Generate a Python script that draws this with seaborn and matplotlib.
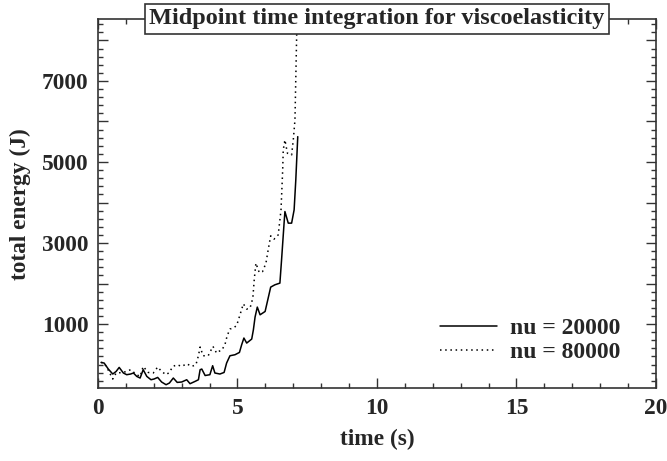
import matplotlib
matplotlib.use("Agg")
import matplotlib.pyplot as plt
import seaborn as sns
import pandas as pd
from matplotlib.ticker import MultipleLocator, FixedLocator, FixedFormatter

# ---------------- data ----------------
t_nu20000 = [0.11, 0.22, 0.37, 0.53, 0.65, 0.76, 0.91, 1.03, 1.17, 1.27, 1.39, 1.51,
             1.62, 1.75, 1.90, 2.01, 2.14, 2.28, 2.44, 2.56, 2.70, 2.84, 3.00, 3.18,
             3.30, 3.48, 3.60, 3.66, 3.72, 3.84, 4.01, 4.11, 4.19, 4.37, 4.52, 4.61,
             4.73, 4.91, 5.07, 5.15, 5.23, 5.33, 5.51, 5.57, 5.63, 5.71, 5.81, 5.99,
             6.10, 6.19, 6.34, 6.52, 6.58, 6.67, 6.70, 6.82, 6.94, 7.03, 7.09, 7.16]
e_nu20000 = [53, 38, -110, -233, -169, -70, -208, -250, -233, -208, -292, -332,
             -127, -292, -374, -356, -317, -430, -497, -455, -332, -440, -430, -374,
             -472, -415, -374, -127, -110, -270, -250, -28, -208, -233, -194, 38,
             218, 243, 300, 490, 655, 531, 630, 859, 1173, 1419, 1229, 1311,
             1641, 1912, 1969, 2011, 2586, 3491, 3777, 3491, 3491, 3819, 4559, 5626]

t_nu80000 = [0.11, 0.22, 0.36, 0.53, 0.65, 0.91, 1.17, 1.39, 1.51, 1.62, 1.80, 1.98,
             2.14, 2.28, 2.44, 2.56, 2.68, 2.84, 3.00, 3.18, 3.36, 3.51, 3.60, 3.66,
             3.77, 3.95, 4.12, 4.25, 4.31, 4.43, 4.55, 4.63, 4.73, 4.85, 4.97, 5.09,
             5.21, 5.33, 5.45, 5.55, 5.60, 5.66, 5.78, 5.90, 6.02, 6.10, 6.19, 6.31,
             6.46, 6.56, 6.62, 6.64, 6.70, 6.79, 6.94, 7.00, 7.04, 7.06, 7.12, 7.15]
e_nu80000 = [53, 40, -127, -356, -208, -194, -127, -250, -292, -46, -194, -208,
             -60, -169, -250, -194, -46, -4, -46, 21, -46, -4, 218, 433,
             218, 218, 450, 285, 324, 349, 490, 711, 877, 901, 965, 1229,
             1500, 1370, 1395, 1641, 2092, 2504, 2272, 2297, 2504, 2832, 3177, 3096,
             3202, 3819, 4805, 5298, 5545, 5217, 5175, 5545, 5873, 6038, 8092, 9000]

series_labels = ["nu = 20000", "nu = 80000"]
title_text = "Midpoint time integration for viscoelasticity"
x_label = "time (s)"
y_label = "total energy (J)"
x_ticks = [0, 5, 10, 15, 20]
y_major_ticks = [1000, 2000, 3000, 4000, 5000, 6000, 7000, 8000]
y_tick_labels = ["1000", "", "3000", "", "5000", "", "7000", ""]

df1 = pd.DataFrame({"t": t_nu20000, "e": e_nu20000})
df2 = pd.DataFrame({"t": t_nu80000, "e": e_nu80000})

# ---------------- styling ----------------
sns.set_style("ticks")
plt.rcParams["font.family"] = ["Liberation Serif", "DejaVu Serif"]
plt.rcParams["font.weight"] = "bold"
plt.rcParams["axes.labelweight"] = "bold"

fig = plt.figure(figsize=(6.67, 4.61), dpi=100)
ax = fig.add_axes([0.1469, 0.1573, 0.8366, 0.8015])

sns.lineplot(data=df1, x="t", y="e", ax=ax, color="black", linewidth=1.1,
             label=series_labels[0], sort=False, estimator=None)
sns.lineplot(data=df2, x="t", y="e", ax=ax, color="black", linewidth=1.1,
             linestyle=(0, (1, 2.4)), label=series_labels[1], sort=False, estimator=None)

ax.set_xlim(0, 20)
ax.set_ylim(-590, 8530)

ax.xaxis.set_major_locator(FixedLocator(x_ticks))
ax.xaxis.set_minor_locator(MultipleLocator(1))
ax.yaxis.set_major_locator(FixedLocator(y_major_ticks))
ax.yaxis.set_major_formatter(FixedFormatter(y_tick_labels))
ax.yaxis.set_minor_locator(MultipleLocator(200))

ax.tick_params(which="both", direction="in", top=True, right=True,
               labelsize=16.8, color="#333333", width=1.0)
ax.tick_params(which="major", length=7.5, pad=7)
ax.tick_params(which="minor", length=3.8)
for lab in ax.get_xticklabels() + ax.get_yticklabels():
    lab.set_fontweight("bold")
for s in ax.spines.values():
    s.set_color("#333333")
    s.set_linewidth(1.2)

ax.set_xlabel(x_label, fontsize=16.8, fontweight="bold", labelpad=7)
ax.set_ylabel(y_label, fontsize=16.8, fontweight="bold", labelpad=8)

ax.text(0.5, 1.0, title_text, transform=ax.transAxes, ha="center", va="center",
        fontsize=17.5, fontweight="bold", zorder=10,
        bbox=dict(boxstyle="square,pad=0.2", facecolor="white",
                  edgecolor="#333333", linewidth=1.2))

leg = ax.legend(loc="upper left", bbox_to_anchor=(0.613, 0.192), frameon=False,
                handlelength=2.4, handletextpad=0.55,
                labelspacing=0.1, borderpad=0, borderaxespad=0,
                prop={"weight": "bold", "size": 17})

fig.savefig("out.png", dpi=100)
